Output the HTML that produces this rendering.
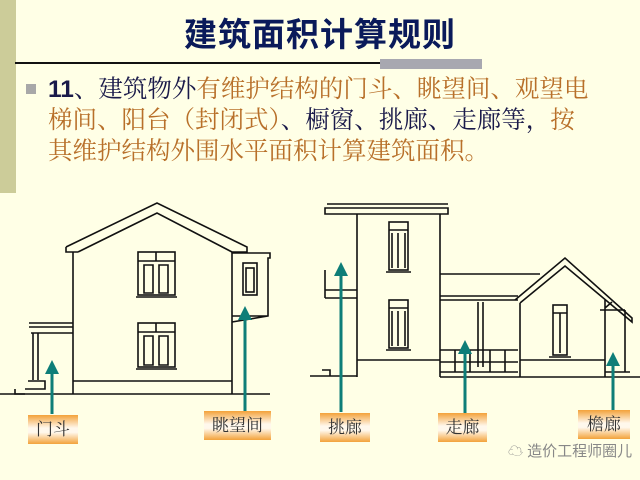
<!DOCTYPE html>
<html><head><meta charset="utf-8"><style>
body{margin:0;width:640px;height:480px;background:#FFFFE6;position:relative;overflow:hidden;font-family:"Liberation Sans","Noto Sans CJK SC",sans-serif}
.bar{position:absolute;left:0;top:0;width:16px;height:193px;background:#CCCC99}
.title{position:absolute;left:0;width:640px;top:8px;text-align:center;font-size:33px;font-weight:bold;color:#0A1A5A;letter-spacing:1px}
.hl{position:absolute;left:15px;top:62px;width:465px;height:2px;background:#111}
.gb{position:absolute;left:380px;top:59px;width:102px;height:10px;background:#A8A8B0}
.txt{position:absolute;left:22px;top:74px;width:600px;font-size:24.5px;line-height:31px;color:#B8702A;font-family:"Liberation Serif","Noto Serif CJK SC",serif}
.txt .n{color:#1A1A4A}
.txt b{font-family:"Liberation Sans",sans-serif}
.bul{position:absolute;left:26px;top:84px;width:10px;height:10px;background:#A8A8A8}
.lb{position:absolute;height:29px;font-size:17px;line-height:29px;text-align:center;color:#333;font-family:"Liberation Serif","Noto Serif CJK SC",serif;background:linear-gradient(#F3A23A,#FFF8EC 45%,#FFF8EC 60%,#F3A23A)}
.wm{position:absolute;left:508px;top:440px;font-size:15px;color:#888;white-space:nowrap}
</style></head><body>
<div class="bar"></div>
<div class="title">建筑面积计算规则</div>
<div class="hl"></div><div class="gb"></div>
<div class="bul"></div>
<div class="txt" style="padding-left:26px"><span class="n"><b>11</b>、建筑物外</span>有维护结构的门斗、眺望间、观望电<br>梯间、阳台（封闭式）<span class="n">、橱窗、挑廊、走廊等，</span>按<br>其维护结构外围水平面积计算建筑面积。</div>
<svg width="640" height="480" style="position:absolute;left:0;top:0" fill="none" stroke="#111" stroke-width="1.6">
<path d="M66,247 L157,203 L247,247 L247,252 L232,252 M66,247 L66,252 L78,252 M78,252 L157,213 L232,252"/>
<path d="M73,252 V394 M232,252 V394 M0,394 H270 M73,381 H232"/>
<path d="M232,253 H270 V258 H268 V316 L232,322 M232,316 H268"/>
<path d="M29,323 H73 M29,327 H73 M31,333 H73 M33,333 V380 M38,333 V380 M28,381 H45 V389 H25 M15,389 V394 H25"/>
<rect x="138" y="252" width="37" height="43"/><path d="M138,261 H175 M156,252 V261 M144,265 H153 V293 H144Z M159,265 H168 V293 H159Z M136,297 H177"/>
<rect x="138" y="323" width="37" height="44"/><path d="M138,332 H175 M156,323 V332 M144,336 H153 V365 H144Z M159,336 H168 V365 H159Z M136,369 H177"/>
<rect x="243" y="263" width="14" height="32"/><rect x="246" y="268" width="8" height="24"/>
<path d="M327,204 H448 M325,208 H448 V214 H325Z M357,214 V377 M440,214 V377 M357,360 H440 M310,376 H357 M322,370 H330 V376"/>
<path d="M325,290 H357 M325,298 H357 M325,270 V298"/>
<rect x="389" y="222" width="19" height="48"/><path d="M389,230 H408 M392,233 V268 M405,233 V268 M398,233 V268 M386,272 H411"/>
<rect x="389" y="300" width="19" height="48"/><path d="M389,308 H408 M392,311 V346 M405,311 V346 M398,311 V346 M386,350 H411"/>
<path d="M440,274 H540 M440,296 H518 M440,300 H518 M478,302 V367 M483,302 V367 M440,350 H518 M440,362 H518 M440,372 H518 M455,350 V372 M470,350 V372 M490,350 V372 M505,350 V372"/>
<path d="M515,300 L565,258 L632,318 L632,322 L565,266 L520,303 M520,303 V377 M440,377 H640 M520,360 H605"/>
<path d="M605,300 V377 M600,310 H625 M625,310 V372 M605,372 H630 M605,308 L612,302"/>
<rect x="553" y="305" width="14" height="50"/><path d="M553,313 H567 M560,313 V353 M549,357 H571"/>
</svg>
<svg width="640" height="480" style="position:absolute;left:0;top:0" stroke="#0E7E78" stroke-width="3" fill="#0E7E78">
<line x1="52" y1="414" x2="52" y2="372"/><polygon points="45,374 52,360 59,374" stroke="none"/>
<line x1="245" y1="411" x2="245" y2="318"/><polygon points="238,320 245,306 252,320" stroke="none"/>
<line x1="341" y1="412" x2="341" y2="274"/><polygon points="334,276 341,262 348,276" stroke="none"/>
<line x1="465" y1="413" x2="465" y2="352"/><polygon points="458,354 465,340 472,354" stroke="none"/>
<line x1="613" y1="410" x2="613" y2="364"/><polygon points="606,366 613,352 620,366" stroke="none"/>
</svg>
<div class="lb" style="left:28px;top:415px;width:50px">门斗</div>
<div class="lb" style="left:204px;top:411px;width:67px">眺望间</div>
<div class="lb" style="left:320px;top:413px;width:50px">挑廊</div>
<div class="lb" style="left:438px;top:413px;width:49px">走廊</div>
<div class="lb" style="left:578px;top:410px;width:52px">檐廊</div>
<div class="wm">☁ 造价工程师圈儿</div>
</body></html>
